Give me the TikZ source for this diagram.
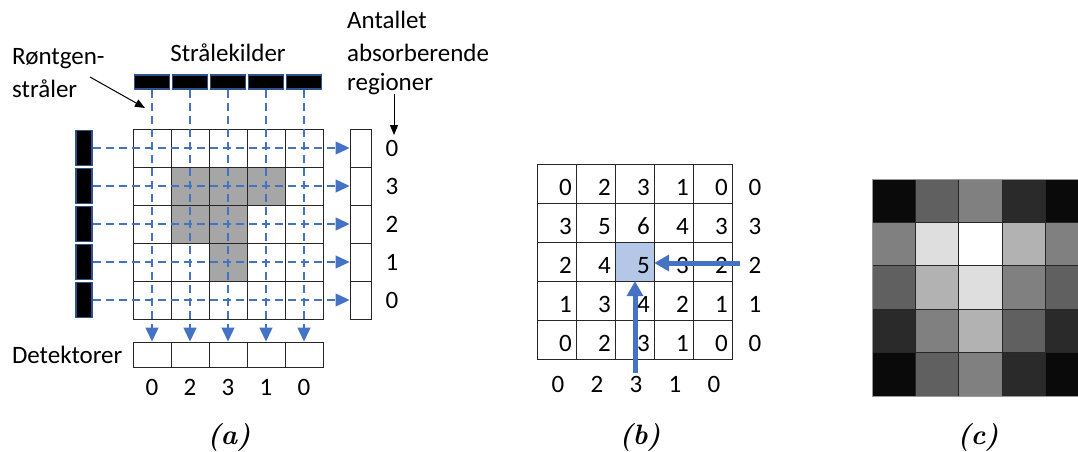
\documentclass[tikz,border=0pt]{standalone}
\usepackage{fontspec}
\newfontfamily\calib{Carlito}
\usetikzlibrary{arrows.meta,positioning}

\definecolor{rayblue}{HTML}{4472C4}
\definecolor{srcedge}{HTML}{2F528F}
\definecolor{hlblue}{HTML}{B4C7E7}
\definecolor{cellgray}{HTML}{A6A6A6}
% grey levels for the reconstructed image, value 0..6
\definecolor{gv0}{gray}{0.04}
\definecolor{gv1}{gray}{0.165}
\definecolor{gv2}{gray}{0.376}
\definecolor{gv3}{gray}{0.5}
\definecolor{gv4}{gray}{0.70}
\definecolor{gv5}{gray}{0.87}
\definecolor{gv6}{gray}{1}

\tikzset{
  txt/.style={font=\calib\fontsize{25}{30}\selectfont, inner sep=0pt},
  sublabel/.style={font=\fontsize{28}{32}\selectfont\bfseries\itshape, inner sep=0pt},
  srcbox/.style={draw=srcedge, line width=1.8pt, fill=black, inner sep=0pt},
  detbox/.style={draw=black!85, line width=0.9pt, fill=white, inner sep=0pt,
    minimum width=38pt, minimum height=25pt},
  ray/.style={rayblue, line width=1.2pt, dash pattern=on 8pt off 5pt,
    -{Triangle[length=14pt,width=13pt]}},
  bigarrow/.style={rayblue, line width=5pt, -{Triangle[length=15pt,width=16pt]}},
  cell/.style={draw=black!85, line width=0.9pt}
}

\begin{document}
\begin{tikzpicture}[x=1pt,y=-1pt]
  \useasboundingbox (0,0) rectangle (1078,452);

  \def\rs{0,3,2,1,0}
  \def\cs{0,2,3,1,0}

  %%% (a) scanning with sources and detectors
  \foreach \i/\j in {2/2,3/2,4/2,2/3,3/3,3/4}
    \fill[cellgray] ({133+38*(\i-1)},{129+38*(\j-1)}) rectangle ++(38,38);
  \foreach \i in {0,...,4}
    \foreach \j in {0,...,4}
      \draw[cell] ({133+38*\i},{129+38*\j}) rectangle ++(38,38);

  \foreach \i in {1,...,5} {
    \node[srcbox, minimum width=35pt, minimum height=14pt] (t\i) at ({114+38*\i},82) {};
    \node[srcbox, minimum width=16pt, minimum height=35pt] (l\i) at (84,{110+38*\i}) {};
    \node[detbox] (b\i) at ({114+38*\i},354.5) {};
    \node[detbox, minimum width=21pt, minimum height=38pt] (r\i) at (360.5,{110+38*\i}) {};
  }
  \foreach \i in {1,...,5} {
    \draw[ray] (t\i.south) -- (b\i.north);
    \draw[ray] (l\i.east) -- (r\i.west);
  }

  \foreach \r [count=\j] in \rs
    \node[txt, right=14pt of r\j] (rn\j) {\r};
  \foreach \c [count=\i] in \cs
    \node[txt, below=12pt of b\i] (bn\i) {\c};

  \node[txt, above=12pt of t3] (kilder) {Strålekilder};
  \node[txt, left=10pt of b1] (detek) {Detektorer};
  \node[txt, anchor=base west] (rontgen) at (12,65) {Røntgen-};
  \node[txt, anchor=base west] (straler) at (12,97) {stråler};
  \node[txt, anchor=base west] (antall) at (347,29) {Antallet};
  \node[txt, anchor=base west] (absorb) at (347,61) {absorberende};
  \node[txt, anchor=base west] (region) at (347,90) {regioner};

  \coordinate (rtail) at (90,77);
  \coordinate (rtip) at (145,108);
  \draw[line width=1pt, -{Triangle[length=10pt,width=8pt]}] (rtail) -- (rtip);
  \coordinate (atail) at (394,94);
  \coordinate (atip) at (394,135);
  \draw[line width=1pt, -{Triangle[length=10pt,width=8pt]}] (atail) -- (atip);

  %%% (b) back projection, value = row sum + column sum
  \node[fill=hlblue, inner sep=0pt, minimum size=39pt] (hl) at (634.5,261.5) {};
  \foreach \r [count=\j] in \rs {
    \foreach \c [count=\i] in \cs {
      \pgfmathtruncatemacro{\v}{\r+\c}
      \draw[cell] ({537+39*(\i-1)},{164+39*(\j-1)}) rectangle ++(39,39);
      \node[txt, anchor=base east] at ({537+39*\i-4},{164+39*(\j-1)+31}) {\v};
    }
    \node[txt, anchor=base] (sr\j) at (755,{164+39*(\j-1)+31}) {\r};
  }
  \foreach \c [count=\i] in \cs
    \node[txt, anchor=base] (sc\i) at ({558+39*(\i-1)},392) {\c};

  \coordinate (htail) at (740,263);
  \coordinate (vtail) at (635,373);
  \draw[bigarrow] (htail) -- (hl.east |- htail);
  \draw[bigarrow] (vtail) -- (vtail |- hl.south);

  %%% (c) resulting grey image
  \foreach \r [count=\j] in \rs {
    \foreach \c [count=\i] in \cs {
      \pgfmathtruncatemacro{\v}{\r+\c}
      \filldraw[fill=gv\v, draw=black!85, line width=1pt]
        ({872+43.4*(\i-1)},{179+43.4*(\j-1)}) rectangle ++(43.4,43.4);
    }
  }
  \draw[black!40, line width=1pt] (872,179) rectangle (1089,396);

  %%% captions
  \node[sublabel] (capa) at (229,437) {(a)};
  \node[sublabel] (capb) at (640,437) {(b)};
  \node[sublabel] (capc) at (978,437) {(c)};
\end{tikzpicture}
\end{document}
